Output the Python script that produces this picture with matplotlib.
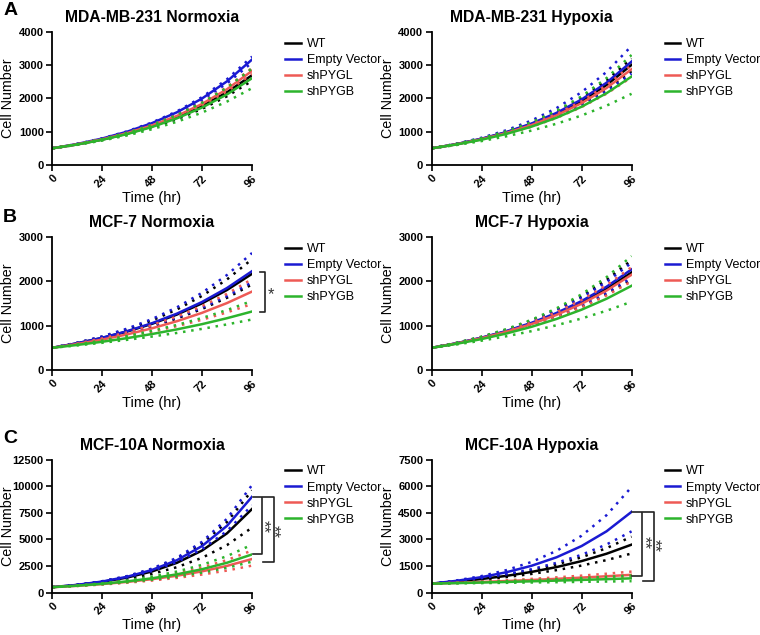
import matplotlib
matplotlib.use('Agg')
import matplotlib.pyplot as plt

plt.rcParams['font.family'] = ['Liberation Sans', 'DejaVu Sans']

# 时间点 (hr)
hours = [0, 12, 24, 36, 48, 60, 72, 84, 96]
groups = ['WT', 'Empty Vector', 'shPYGL', 'shPYGB']
colors = ['#000000', '#1a1ad2', '#ee5a55', '#2cb42c']

# 每组: [拟合均值, 下限, 上限]
mda_norm_wt = [[500, 617, 762, 941, 1162, 1435, 1772, 2188, 2700],
               [500, 612, 750, 919, 1125, 1378, 1688, 2067, 2531],
               [500, 622, 775, 964, 1200, 1494, 1860, 2315, 2881]]
mda_norm_ev = [[500, 630, 794, 1000, 1259, 1586, 1998, 2517, 3171],
               [500, 628, 788, 989, 1241, 1558, 1955, 2454, 3081],
               [500, 632, 799, 1010, 1277, 1614, 2040, 2579, 3260]]
mda_norm_pygl = [[500, 621, 771, 958, 1190, 1477, 1835, 2279, 2830],
                 [500, 618, 765, 946, 1170, 1448, 1791, 2215, 2740],
                 [500, 623, 777, 969, 1208, 1506, 1878, 2341, 2919]]
mda_norm_pygb = [[500, 615, 756, 929, 1142, 1404, 1727, 2123, 2610],
                 [500, 605, 733, 888, 1075, 1301, 1576, 1908, 2310],
                 [500, 623, 776, 967, 1204, 1500, 1869, 2328, 2900]]

mda_hyp_wt = [[500, 626, 783, 980, 1227, 1536, 1922, 2406, 3011],
              [500, 621, 771, 957, 1188, 1474, 1830, 2272, 2820],
              [500, 631, 795, 1003, 1265, 1595, 2012, 2537, 3200]]
mda_hyp_ev = [[500, 628, 790, 992, 1247, 1567, 1969, 2475, 3110],
              [500, 619, 766, 947, 1172, 1451, 1795, 2222, 2749],
              [500, 640, 818, 1046, 1338, 1711, 2189, 2799, 3580]]
mda_hyp_pygl = [[500, 622, 775, 964, 1200, 1494, 1860, 2315, 2881],
                [500, 616, 758, 933, 1149, 1415, 1742, 2144, 2640],
                [500, 626, 783, 979, 1225, 1532, 1917, 2398, 3000]]
mda_hyp_pygb = [[500, 616, 759, 936, 1153, 1421, 1752, 2159, 2660],
                [500, 600, 719, 863, 1035, 1241, 1488, 1785, 2141],
                [500, 633, 802, 1016, 1286, 1629, 2063, 2613, 3309]]

mcf7_norm_wt = [[500, 601, 722, 867, 1042, 1252, 1504, 1806, 2170],
                [500, 592, 701, 830, 982, 1163, 1377, 1630, 1930],
                [500, 611, 748, 914, 1118, 1367, 1672, 2044, 2500]]
mcf7_norm_ev = [[500, 603, 727, 876, 1056, 1273, 1535, 1850, 2230],
                [500, 594, 705, 838, 995, 1182, 1404, 1667, 1980],
                [500, 616, 758, 933, 1149, 1415, 1742, 2144, 2640]]
mcf7_norm_pygl = [[500, 586, 686, 803, 941, 1102, 1290, 1511, 1770],
                  [500, 573, 657, 753, 863, 989, 1134, 1300, 1490],
                  [500, 596, 712, 849, 1013, 1208, 1441, 1719, 2050]]
mcf7_norm_pygb = [[500, 565, 637, 719, 812, 917, 1035, 1169, 1320],
                  [500, 554, 614, 681, 755, 837, 928, 1029, 1140],
                  [500, 576, 664, 766, 883, 1018, 1173, 1353, 1559]]

mcf7_hyp_wt = [[500, 602, 724, 872, 1049, 1263, 1520, 1829, 2201],
               [500, 596, 710, 846, 1008, 1201, 1430, 1704, 2030],
               [500, 611, 746, 911, 1113, 1360, 1661, 2030, 2479]]
mcf7_hyp_ev = [[500, 604, 730, 882, 1065, 1287, 1555, 1879, 2270],
               [500, 598, 714, 853, 1020, 1219, 1456, 1740, 2080],
               [500, 609, 742, 903, 1100, 1340, 1632, 1987, 2420]]
mcf7_hyp_pygl = [[500, 600, 720, 864, 1037, 1244, 1493, 1792, 2150],
                 [500, 595, 707, 841, 1000, 1189, 1414, 1682, 2000],
                 [500, 606, 734, 889, 1077, 1305, 1581, 1915, 2320]]
mcf7_hyp_pygb = [[500, 591, 698, 825, 975, 1152, 1361, 1608, 1900],
                 [500, 576, 662, 762, 877, 1010, 1162, 1338, 1540],
                 [500, 614, 753, 924, 1134, 1391, 1707, 2095, 2570]]

mcf10a_norm_wt = [[500, 705, 995, 1404, 1981, 2796, 3944, 5565, 7852],
                  [500, 684, 934, 1277, 1746, 2387, 3263, 4461, 6099],
                  [500, 723, 1047, 1514, 2191, 3170, 4586, 6635, 9600]]
mcf10a_norm_ev = [[500, 718, 1030, 1478, 2121, 3044, 4369, 6271, 9000],
                  [500, 709, 1006, 1427, 2025, 2872, 4074, 5780, 8199],
                  [500, 728, 1060, 1543, 2247, 3272, 4764, 6936, 10099]]
mcf10a_norm_pygl = [[500, 629, 792, 997, 1255, 1580, 1988, 2503, 3150],
                    [500, 612, 750, 919, 1125, 1378, 1688, 2067, 2531],
                    [500, 647, 838, 1085, 1405, 1820, 2356, 3051, 3950]]
mcf10a_norm_pygb = [[500, 640, 818, 1046, 1338, 1711, 2189, 2799, 3580],
                    [500, 623, 776, 967, 1204, 1500, 1869, 2328, 2900],
                    [500, 658, 866, 1140, 1500, 1974, 2598, 3420, 4501]]

mcf10a_hyp_wt = [[500, 617, 762, 941, 1162, 1435, 1772, 2188, 2700],
                 [500, 602, 724, 872, 1049, 1263, 1520, 1829, 2201],
                 [500, 629, 792, 997, 1255, 1580, 1988, 2503, 3150]]
mcf10a_hyp_ev = [[500, 659, 869, 1145, 1509, 1988, 2620, 3453, 4551],
                 [500, 637, 810, 1032, 1313, 1672, 2128, 2710, 3450],
                 [500, 681, 928, 1265, 1724, 2350, 3202, 4364, 5948]]
mcf10a_hyp_pygl = [[500, 545, 595, 648, 707, 771, 841, 917, 1000],
                   [500, 534, 571, 610, 652, 697, 744, 796, 850],
                   [500, 557, 620, 690, 768, 855, 952, 1060, 1180]]
mcf10a_hyp_pygb = [[500, 530, 562, 596, 632, 671, 711, 754, 800],
                   [500, 516, 532, 548, 566, 583, 602, 620, 640],
                   [500, 543, 589, 639, 693, 752, 816, 885, 960]]

titles = ['MDA-MB-231 Normoxia', 'MDA-MB-231 Hypoxia',
          'MCF-7 Normoxia', 'MCF-7 Hypoxia',
          'MCF-10A Normoxia', 'MCF-10A Hypoxia']
panel_data = [[mda_norm_wt, mda_norm_ev, mda_norm_pygl, mda_norm_pygb],
              [mda_hyp_wt, mda_hyp_ev, mda_hyp_pygl, mda_hyp_pygb],
              [mcf7_norm_wt, mcf7_norm_ev, mcf7_norm_pygl, mcf7_norm_pygb],
              [mcf7_hyp_wt, mcf7_hyp_ev, mcf7_hyp_pygl, mcf7_hyp_pygb],
              [mcf10a_norm_wt, mcf10a_norm_ev, mcf10a_norm_pygl, mcf10a_norm_pygb],
              [mcf10a_hyp_wt, mcf10a_hyp_ev, mcf10a_hyp_pygl, mcf10a_hyp_pygb]]
y_max = [4000, 4000, 3000, 3000, 12500, 7500]
y_step = [1000, 1000, 1000, 1000, 2500, 1500]
x_ticks = [0, 24, 48, 72, 96]

fig = plt.figure(figsize=(7.6, 6.35), dpi=100)

lefts = [0.0684, 0.5678]
bottoms = [0.7402, 0.4173, 0.0669]
axes = []
for i in range(6):
    row, col = divmod(i, 2)
    ax = fig.add_axes([lefts[col], bottoms[row], 0.2632, 0.2094])
    axes.append(ax)

    for (mean, lo, hi), c, name in zip(panel_data[i], colors, groups):
        ax.plot(hours, lo, color=c, lw=1.8, ls=(0, (1, 2.3)))
        ax.plot(hours, hi, color=c, lw=1.8, ls=(0, (1, 2.3)))
        ax.plot(hours, mean, color=c, lw=1.8, label=name)

    ax.set_xlim(0, 96)
    ax.set_ylim(0, y_max[i])
    yt = list(range(0, y_max[i] + 1, y_step[i]))
    # 5位数刻度用窄体, 与原图一致
    yfam = ['Liberation Sans Narrow', 'Liberation Sans'] if y_max[i] >= 10000 else None
    ax.set_yticks(yt, labels=[str(v) for v in yt], fontweight='bold', fontsize=8,
                  family=yfam)
    ax.set_xticks(x_ticks, labels=[str(v) for v in x_ticks], fontweight='bold',
                  fontsize=8, rotation=45, ha='right', rotation_mode='anchor')
    ax.tick_params(direction='out', length=4, width=1.2, pad=2)
    for s in ['top', 'right']:
        ax.spines[s].set_visible(False)
    for s in ['left', 'bottom']:
        ax.spines[s].set_linewidth(1.3)

    ax.set_title(titles[i], fontsize=11.3, fontweight='bold', pad=7)
    ax.set_ylabel('Cell Number', fontsize=10.3)
    ax.yaxis.set_label_coords(-0.185, 0.5)
    ax.set_xlabel('Time (hr)', fontsize=10.5, labelpad=1)
    ax.legend(loc='upper left', bbox_to_anchor=(1.11, 1.04), frameon=False,
              fontsize=9, handlelength=1.25, handletextpad=0.45, labelspacing=0.33)


def bracket(ax, x0, x1, y_top, y_bot, text, tx, ty, rot):
    ax.plot([x0, x1, x1, x0], [y_top, y_top, y_bot, y_bot], color='#222222',
            lw=1.2, clip_on=False)
    ax.text(tx, ty, text, rotation=rot, ha='center', va='center', fontsize=12,
            color='#333333', clip_on=False)


# 显著性标记
bracket(axes[2], 99.8, 102.2, 2210, 1310, '*', 105.0, 1700, 0)
bracket(axes[4], 96.5, 100.8, 9000, 3600, '**', 101.5, 6200, 270)
bracket(axes[4], 101.3, 106.6, 9000, 2850, '**', 106.3, 5730, 270)
bracket(axes[5], 96.3, 101.1, 4550, 950, '**', 101.8, 2815, 270)
bracket(axes[5], 101.5, 106.8, 4550, 670, '**', 106.8, 2630, 270)

for lab, y in zip(['A', 'B', 'C'], [0.983, 0.658, 0.31]):
    fig.text(0.004, y, lab, fontsize=14, fontweight='bold', va='center')

fig.savefig('out.png', dpi=100)
